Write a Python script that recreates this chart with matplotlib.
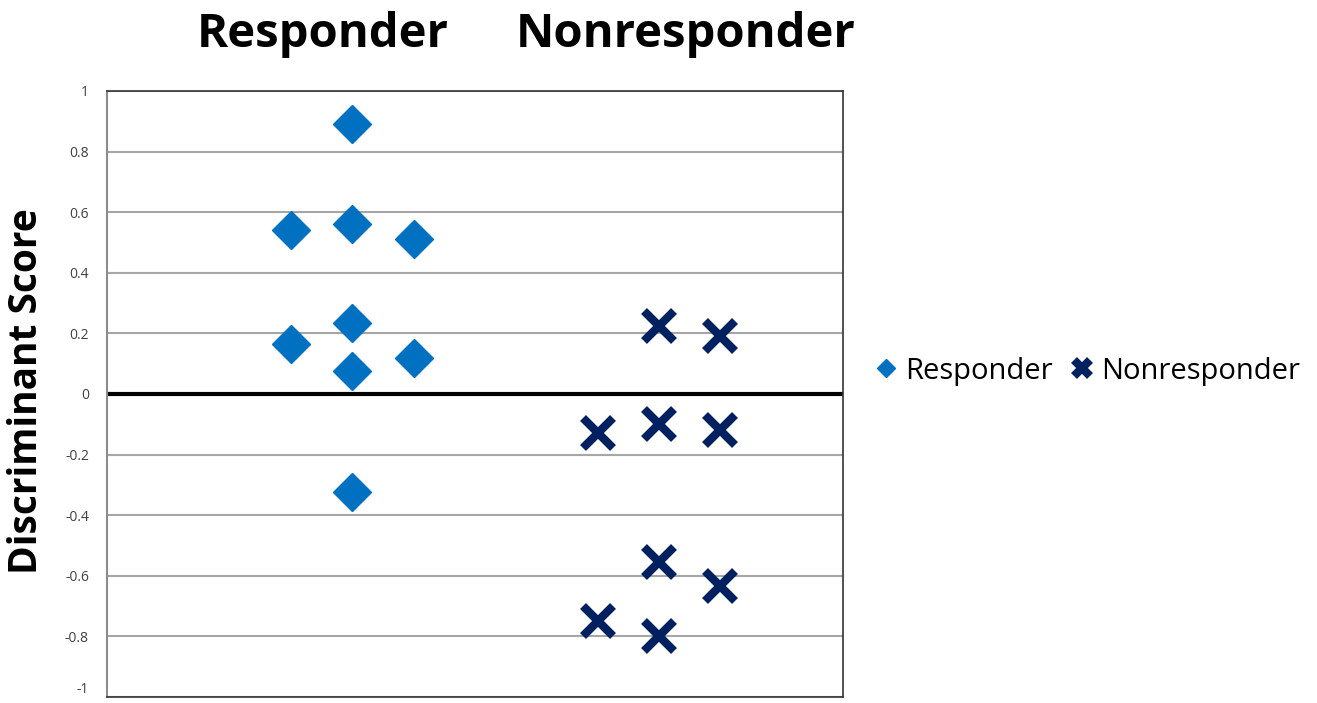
import matplotlib.pyplot as plt
import numpy as np

# data
resp_x = [3, 4, 4, 5, 3, 4, 4, 5, 4]
resp_y = [0.54, 0.89, 0.56, 0.51, 0.165, 0.235, 0.075, 0.12, -0.325]
nonresp_x = [9, 10, 8, 9, 10, 9, 10, 8, 9]
nonresp_y = [0.225, 0.19, -0.13, -0.10, -0.12, -0.555, -0.635, -0.75, -0.80]
y_ticks = [-1, -0.8, -0.6, -0.4, -0.2, 0, 0.2, 0.4, 0.6, 0.8, 1]
y_ticklabels = ['-1', '-0.8', '-0.6', '-0.4', '-0.2', '0', '0.2', '0.4', '0.6', '0.8', '1']
group_titles = ['Responder', 'Nonresponder']

plt.rcParams['font.family'] = ['Open Sans', 'DejaVu Sans']

fig = plt.figure(figsize=(13.17, 7.03), dpi=100)
ax = fig.add_axes([0.0812, 0.0085, 0.5589, 0.8621])

ax.set_xlim(0, 12)
ax.set_ylim(-1, 1)

# gridlines
for t in y_ticks:
    ax.axhline(t, color='#a6a6a6', linewidth=1.5, zorder=1)
ax.axhline(0, color='black', linewidth=3, zorder=2)  # zero line

ax.plot(resp_x, resp_y, linestyle='none', marker='D', markersize=19,
        color='#0070c0', label='Responder', zorder=3)
ax.plot(nonresp_x, nonresp_y, linestyle='none', marker='x', markersize=22,
        markeredgewidth=6, color='#002060', label='Nonresponder', zorder=3)

ax.set_xticks([])
ax.set_yticks(y_ticks)
ax.set_yticklabels(y_ticklabels, fontsize=10, color='#404040')
ax.tick_params(axis='y', length=0, pad=13)
# keep the bottom label just inside the figure
ax.get_yticklabels()[0].set_verticalalignment('bottom')

ax.spines['left'].set_color('#8c8c8c')
ax.spines['left'].set_linewidth(1.5)
for s in ['top', 'right', 'bottom']:
    ax.spines[s].set_color('#333333')
    ax.spines[s].set_linewidth(1.2)

ax.set_ylabel('Discriminant Score', fontsize=28, fontweight='bold')
ax.yaxis.set_label_coords(-0.083, 0.505)

# group titles above the plot
fig.text(323 / 1317, 1 - 34 / 703, group_titles[0], fontsize=34, fontweight='bold',
         ha='center', va='center')
fig.text(686 / 1317, 1 - 34 / 703, group_titles[1], fontsize=34, fontweight='bold',
         ha='center', va='center')

fig.legend(loc='center left', bbox_to_anchor=(0.641, 1 - 371 / 703), frameon=False,
           ncol=2, fontsize=21, handletextpad=0.1, columnspacing=0.45,
           markerscale=0.5, handlelength=1.1)

fig.savefig('out.png', dpi=100)
